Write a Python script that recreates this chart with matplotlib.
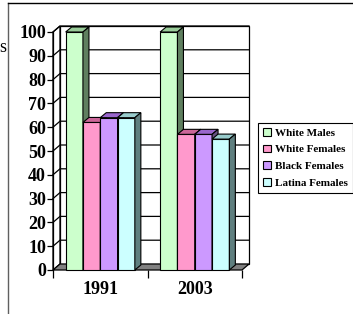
import matplotlib
matplotlib.use("Agg")
import matplotlib.pyplot as plt
from matplotlib.patches import Polygon, Patch
from matplotlib.lines import Line2D
import numpy as np

categories = ["1991", "2003"]
series = ["White Males", "White Females", "Black Females", "Latina Females"]
values = {
    "White Males": [100, 100],
    "White Females": [62, 57],
    "Black Females": [64, 57],
    "Latina Females": [64, 55],
}
front_colors = ["#CCFFCC", "#FF99CC", "#CC99FF", "#CCFFFF"]
top_colors = ["#99CC99", "#CC6699", "#9966CC", "#99CCCC"]
side_colors = ["#5F7F5F", "#806680", "#665080", "#5F7F7F"]
yticks = list(range(0, 101, 10))

W, H = 353, 314
fig = plt.figure(figsize=(W / 100, H / 100), dpi=100)
ax = fig.add_axes([53 / W, (H - 270) / H, 189 / W, 238 / H])
ax.set_xlim(-0.5, 1.5)
ax.set_ylim(0, 100)
for s in ax.spines.values():
    s.set_visible(False)
ax.patch.set_visible(False)

# pixel -> data scale
px_x = 2 / 189
px_y = 100 / 238
wdx, wdy = 7 * px_x, 6 * px_y   # wall depth
bdx, bdy = 6 * px_x, 5 * px_y   # bar depth

x0, x1 = -0.5, 1.5
lw = 0.9
# side wall + back wall
ax.add_patch(Polygon([(x0, 0), (x0 + wdx, wdy), (x0 + wdx, 100 + wdy), (x0, 100)],
                     closed=True, facecolor="white", edgecolor="black", lw=lw, zorder=1, clip_on=False))
ax.add_patch(Polygon([(x0 + wdx, wdy), (x1 + wdx, wdy), (x1 + wdx, 100 + wdy), (x0 + wdx, 100 + wdy)],
                     closed=True, facecolor="white", edgecolor="black", lw=lw, zorder=1, clip_on=False))
for v in yticks[1:]:
    ax.plot([x0, x0 + wdx, x1 + wdx], [v, v + wdy, v + wdy], color="black", lw=lw, zorder=2, clip_on=False)
# floor
ax.add_patch(Polygon([(x0, 0), (x1, 0), (x1 + wdx, wdy), (x0 + wdx, wdy)],
                     closed=True, facecolor="#808080", edgecolor="black", lw=lw, zorder=3, clip_on=False))
# front axis line
ax.plot([x0, x0], [0, 100], color="black", lw=lw, zorder=3, clip_on=False)

# bars
n = len(series)
bw = 17.3 * px_x
xs = np.arange(len(categories))
z = 4
for ci in range(len(categories)):
    for si, name in enumerate(series):
        v = values[name][ci]
        left = xs[ci] + (si - n / 2) * bw
        ax.bar(left, v, width=bw, align="edge", color=front_colors[si], edgecolor="black",
               lw=0.8, zorder=z, clip_on=False)
        ax.add_patch(Polygon([(left, v), (left + bw, v), (left + bw + bdx, v + bdy), (left + bdx, v + bdy)],
                             closed=True, facecolor=top_colors[si], edgecolor="black", lw=0.8,
                             zorder=z, clip_on=False))
        ax.add_patch(Polygon([(left + bw, 0), (left + bw + bdx, bdy), (left + bw + bdx, v + bdy), (left + bw, v)],
                             closed=True, facecolor=side_colors[si], edgecolor="black", lw=0.8,
                             zorder=z, clip_on=False))
        z += 1

# ticks
tfont = dict(family="Liberation Serif", weight="bold", size=13)
ax.set_yticks(yticks)
ax.set_yticklabels([str(t) for t in yticks], **tfont)
ax.tick_params(axis="y", length=4, width=lw, pad=1, direction="out")
ax.set_xticks(xs)
ax.set_xticklabels(categories, **tfont)
ax.tick_params(axis="x", which="major", length=0, pad=8)
ax.set_xticks([-0.5, 0.5, 1.5], minor=True)
ax.tick_params(axis="x", which="minor", length=6, width=lw, direction="out")

# legend
handles = [Patch(facecolor=c, edgecolor="black", lw=0.8) for c in front_colors]
leg = fig.legend(handles, series, loc="upper left", bbox_to_anchor=(258 / W, 1 - 123 / H),
                 prop=dict(family="Liberation Serif", weight="bold", size=8),
                 frameon=True, fancybox=False, framealpha=1, edgecolor="black",
                 handlelength=0.7, handleheight=0.7, handletextpad=0.4,
                 labelspacing=0.62, borderpad=0.45, borderaxespad=0)
leg.get_frame().set_linewidth(0.8)

# border lines and clipped title fragment
fig.add_artist(Line2D([8 / W, 8 / W], [0, 1 - 3 / H], color="#606060", lw=1))
fig.add_artist(Line2D([8 / W, 1], [1 - 3 / H, 1 - 3 / H], color="black", lw=1))
fig.text(-0.5 / W, 1 - 48 / H, "s", family="Liberation Serif", size=13, ha="left", va="center")

fig.savefig("out.png", dpi=100)
